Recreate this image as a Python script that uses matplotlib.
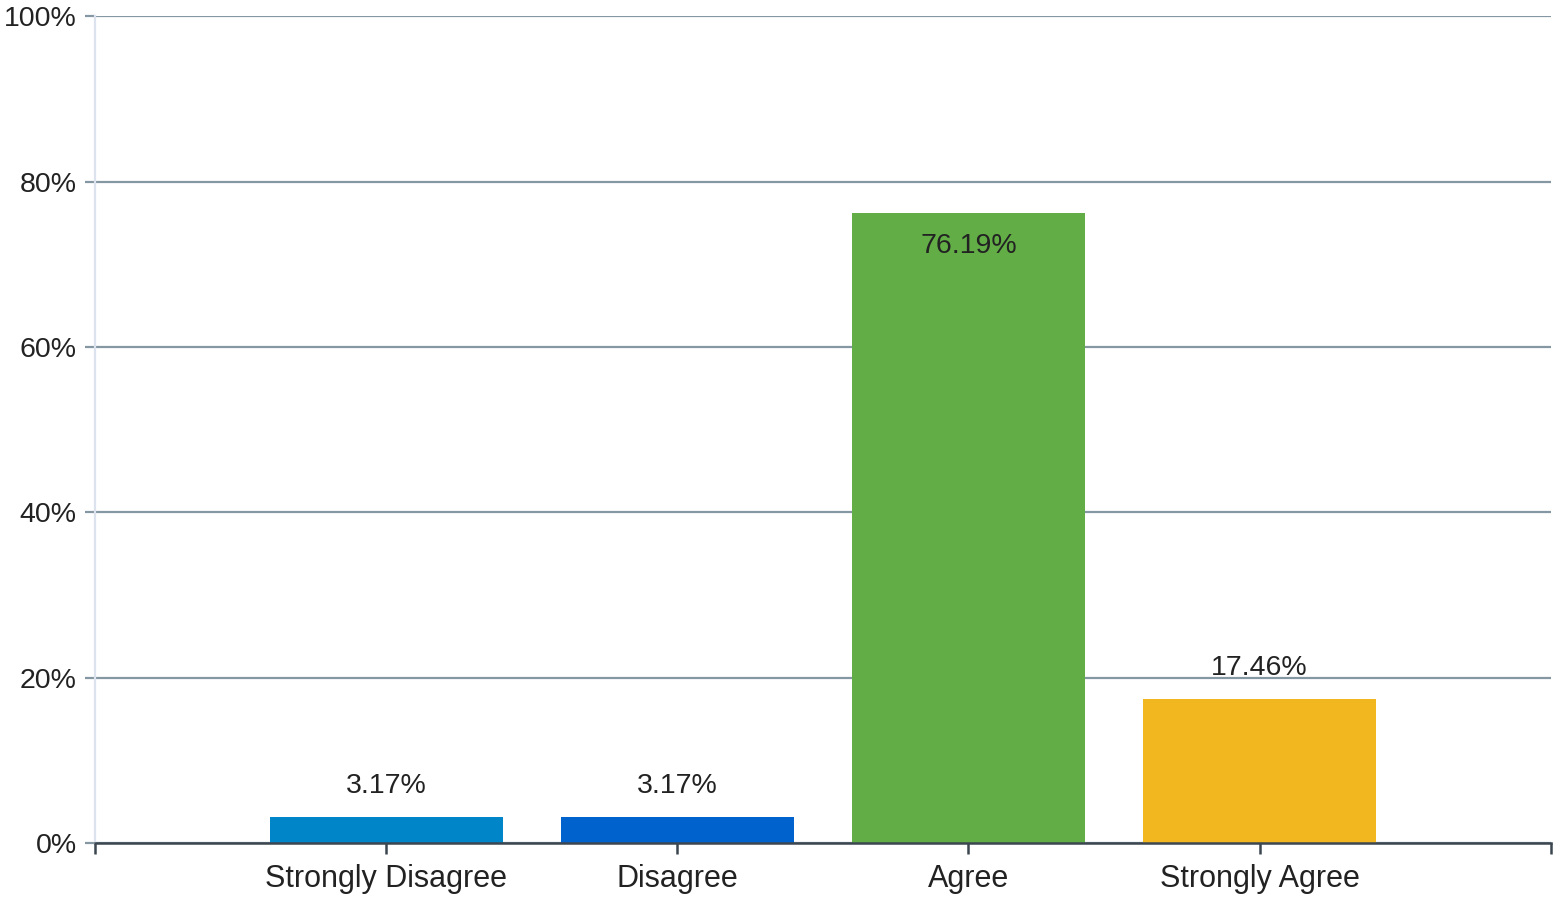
import matplotlib.pyplot as plt

# 数据
categories = ['Strongly Disagree', 'Disagree', 'Agree', 'Strongly Agree']
values = [3.17, 3.17, 76.19, 17.46]
colors = ['#0085C8', '#0062CC', '#62AD46', '#F2B61E']
y_ticks = [0, 20, 40, 60, 80, 100]

plt.rcParams['font.family'] = ['Liberation Sans', 'DejaVu Sans']

fig = plt.figure(figsize=(15.54, 8.99), dpi=100)
ax = fig.add_axes([0.061, 0.062, 0.937, 0.920])

x = list(range(1, len(categories) + 1))
bars = ax.bar(x, values, width=0.8, color=colors, zorder=3)

# 数值标签
for xi, v in zip(x, values):
    if v > 50:
        ax.annotate(f'{v:.2f}%', (xi, v), xytext=(0, -20), textcoords='offset pixels',
                    ha='center', va='top', fontsize=20.5, color='#222222', zorder=4)
    else:
        ax.annotate(f'{v:.2f}%', (xi, v), xytext=(0, 18), textcoords='offset pixels',
                    ha='center', va='bottom', fontsize=20.5, color='#222222', zorder=4)

ax.set_xlim(0, len(categories) + 1)
ax.set_ylim(0, 100)

ax.set_yticks(y_ticks)
ax.set_yticklabels([f'{t}%' for t in y_ticks], fontsize=20.5, color='#222222')
ax.set_xticks([0] + x + [len(categories) + 1])
ax.set_xticklabels([''] + categories + [''], fontsize=22, color='#222222')

ax.yaxis.grid(True, color='#8597A3', linewidth=1.6, zorder=0)
ax.set_axisbelow(True)

for s in ['top', 'right']:
    ax.spines[s].set_visible(False)
ax.spines['left'].set_color('#DDE3EE')
ax.spines['left'].set_linewidth(1.6)
ax.spines['bottom'].set_color('#3C4650')
ax.spines['bottom'].set_linewidth(1.8)
ax.spines['bottom'].set_zorder(5)

ax.tick_params(axis='y', length=7, width=1.6, color='#8597A3', pad=6)
ax.tick_params(axis='x', length=8, width=1.8, color='#3C4650', pad=7)

fig.savefig('out.png', dpi=100)
